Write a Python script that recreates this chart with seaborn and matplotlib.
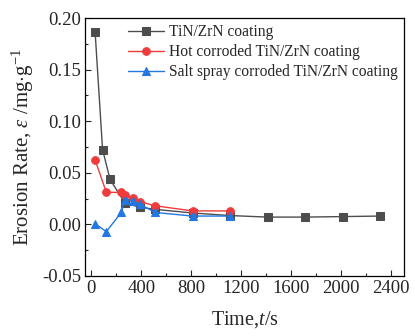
import pandas as pd
import matplotlib.pyplot as plt
import seaborn as sns
from matplotlib.ticker import MultipleLocator

# erosion rate data
t_base = [30, 90, 150, 270, 390, 510, 810, 1110, 1410, 1710, 2010, 2310]
er_base = [0.187, 0.0725, 0.0435, 0.0205, 0.0165, 0.0145, 0.011, 0.0085, 0.007, 0.007, 0.0075, 0.008]

t_corr = [30, 120, 240, 270, 330, 390, 510, 810, 1110]
er_hot = [0.0625, 0.031, 0.031, 0.028, 0.0258, 0.022, 0.018, 0.013, 0.013]
er_salt = [0.0005, -0.007, 0.0115, 0.024, 0.023, 0.0195, 0.0115, 0.008, 0.008]

labels = ['TiN/ZrN coating', 'Hot corroded TiN/ZrN coating', 'Salt spray corroded TiN/ZrN coating']
colors = ['#4d4d4d', '#ef3b3b', '#2277e0']
markers = ['s', 'o', '^']

sns.set_style('ticks')
plt.rcParams['font.family'] = ['Liberation Serif', 'DejaVu Serif']
plt.rcParams['mathtext.fontset'] = 'custom'
plt.rcParams['mathtext.rm'] = 'Liberation Serif'
plt.rcParams['mathtext.it'] = 'Liberation Serif:italic'
plt.rcParams['xtick.direction'] = 'in'
plt.rcParams['ytick.direction'] = 'in'

fig, ax = plt.subplots(figsize=(4.15, 3.36), dpi=100)
fig.subplots_adjust(left=0.205, right=0.973, top=0.946, bottom=0.179)

series = [(t_base, er_base), (t_corr, er_hot), (t_corr, er_salt)]
for (t, e), lab, c, m in zip(series, labels, colors, markers):
    df = pd.DataFrame({'t': t, 'e': e})
    sns.lineplot(data=df, x='t', y='e', ax=ax, color=c, marker=m, markersize=5.5,
                 markeredgecolor=c, linewidth=1.0, label=lab, sort=False)

ax.set_xlim(-50, 2500)
ax.set_ylim(-0.05, 0.20)
ax.set_xticks([0, 400, 800, 1200, 1600, 2000, 2400])
ax.set_yticks([-0.05, 0.00, 0.05, 0.10, 0.15, 0.20])
ax.set_yticklabels(['-0.05', '0.00', '0.05', '0.10', '0.15', '0.20'])
ax.xaxis.set_minor_locator(MultipleLocator(200))
ax.yaxis.set_minor_locator(MultipleLocator(0.025))
ax.tick_params(labelsize=13.5, length=4, width=0.8, pad=3)
ax.tick_params(which='minor', length=2.5, width=0.8)
for s in ax.spines.values():
    s.set_visible(True)
    s.set_linewidth(0.9)
    s.set_color('black')

ax.set_xlabel('Time,$t$/s', fontsize=14.5, labelpad=9)
ax.set_ylabel('Erosion Rate, $\\varepsilon$ /mg$\\cdot$g$^{-1}$', fontsize=15, labelpad=4)
ax.legend(loc='upper right', frameon=False, fontsize=11.2, handlelength=2.3,
          handletextpad=0.3, labelspacing=0.25, borderaxespad=0.05, borderpad=0.35)

plt.savefig('out.png', dpi=100)
